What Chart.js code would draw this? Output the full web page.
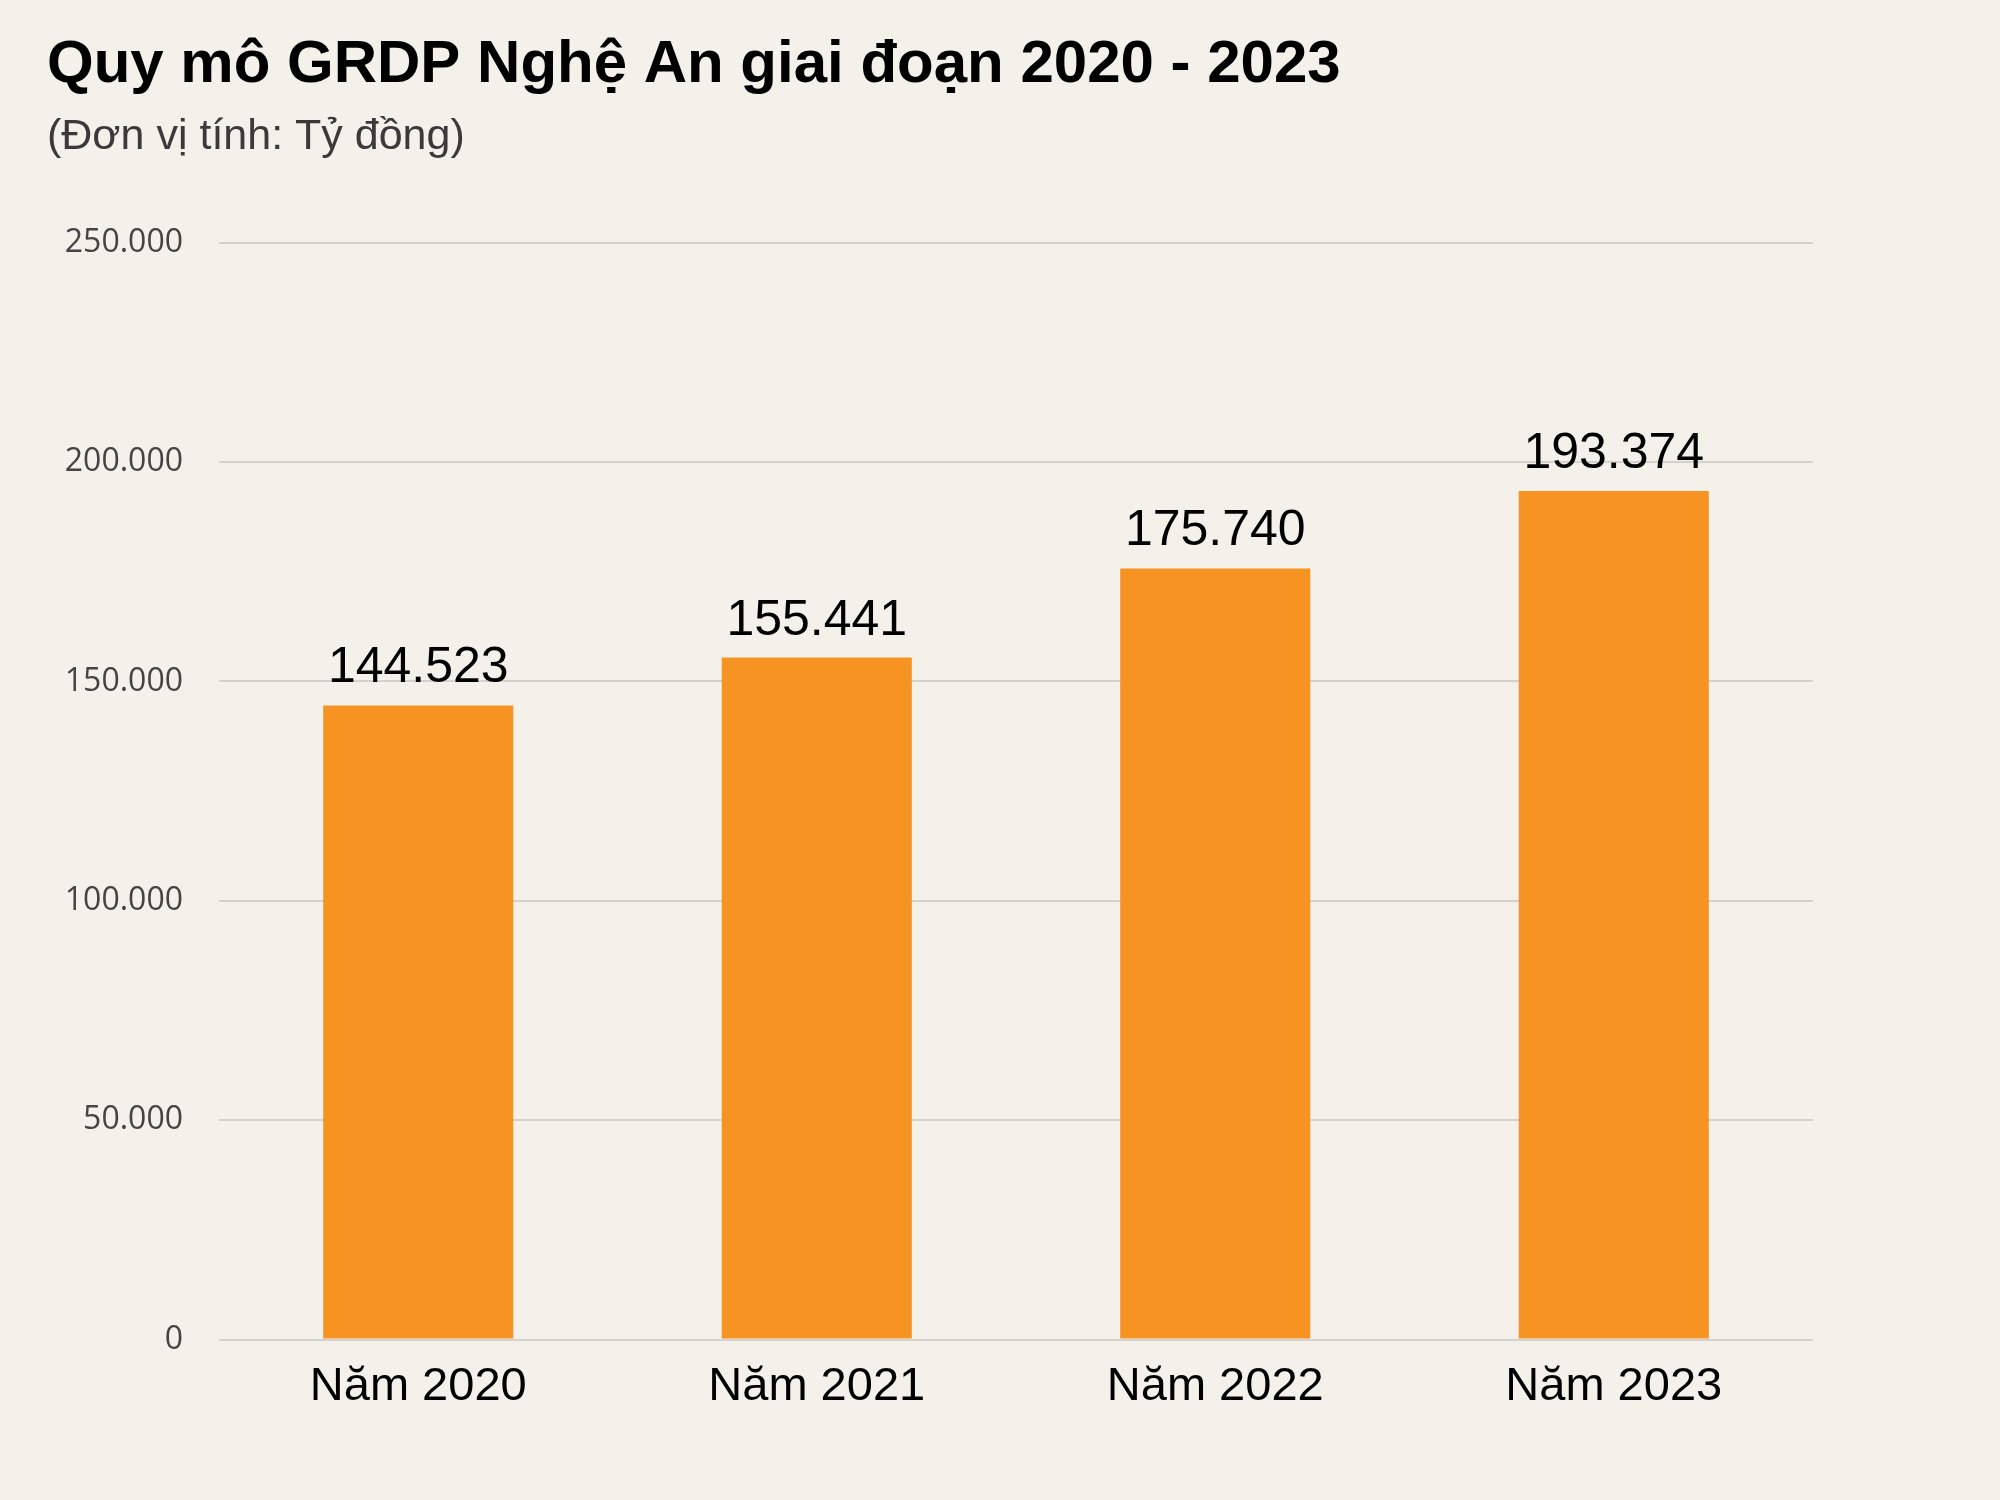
<!DOCTYPE html>
<html>
<head>
<meta charset="utf-8">
<script src="https://cdn.jsdelivr.net/npm/chart.js@4"></script>
<style>
  body { margin: 0; background: #f4f1ea; }
  canvas { display: block; }
</style>
</head>
<body>
<canvas id="myChart" width="2000" height="1500"></canvas>
<script>
const years = ['Năm 2020', 'Năm 2021', 'Năm 2022', 'Năm 2023'];
const grdp = [144523, 155441, 175740, 193374];
const yTicks = [0, 50000, 100000, 150000, 200000, 250000];

function dots(n) {
  return String(n).replace(/\B(?=(\d{3})+(?!\d))/g, '.');
}

// numbers on top of the bars
const barValues = {
  id: 'barValues',
  afterDatasetsDraw(chart) {
    const ctx = chart.ctx;
    ctx.save();
    ctx.font = '50px "Liberation Sans"';
    ctx.fillStyle = '#000';
    ctx.textAlign = 'center';
    ctx.textBaseline = 'alphabetic';
    chart.getDatasetMeta(0).data.forEach((bar, i) => {
      ctx.fillText(dots(grdp[i]), bar.x, bar.y - 23);
    });
    ctx.restore();
  }
};

const data = {
  labels: years,
  datasets: [
    {
      label: 'GRDP',
      backgroundColor: '#f79323',
      borderWidth: 0,
      data: grdp,
      barPercentage: 0.477,
      categoryPercentage: 1,
    },
  ],
};

const myBarChart = new Chart('myChart', {
  type: 'bar',
  data,
  plugins: [barValues],
  options: {
    responsive: false,
    animation: false,
    layout: { padding: { left: 47, right: 187, top: 0, bottom: 66 } },
    plugins: {
      legend: { display: false },
      tooltip: { enabled: false },
      title: {
        display: true,
        text: 'Quy mô GRDP Nghệ An giai đoạn 2020 - 2023',
        align: 'start',
        color: '#000',
        font: { family: '"Liberation Sans"', size: 60, weight: 'bold', lineHeight: 1.2 },
        padding: { top: 29, bottom: 0 },
      },
      subtitle: {
        display: true,
        text: '(Đơn vị tính: Tỷ đồng)',
        align: 'start',
        color: '#3a3a3a',
        font: { family: '"Liberation Sans"', size: 43, lineHeight: 1.2 },
        padding: { top: 10, bottom: 80 },
      },
    },
    scales: {
      x: {
        grid: { display: false, drawTicks: false },
        border: { display: false },
        ticks: {
          color: '#000',
          padding: 19,
          font: { family: '"Liberation Sans"', size: 47 },
        },
      },
      y: {
        min: 0,
        max: 250000,
        afterFit(scale) { scale.width = 172; },
        afterBuildTicks(scale) { scale.ticks = yTicks.map(v => ({ value: v })); },
        grid: { color: '#d5d2cb', lineWidth: 2, drawTicks: false },
        border: { display: false },
        ticks: {
          color: '#444',
          padding: 36,
          font: { family: '"Open Sans"', size: 32 },
          callback: v => dots(v),
        },
      },
    },
  },
});
</script>
</body>
</html>
